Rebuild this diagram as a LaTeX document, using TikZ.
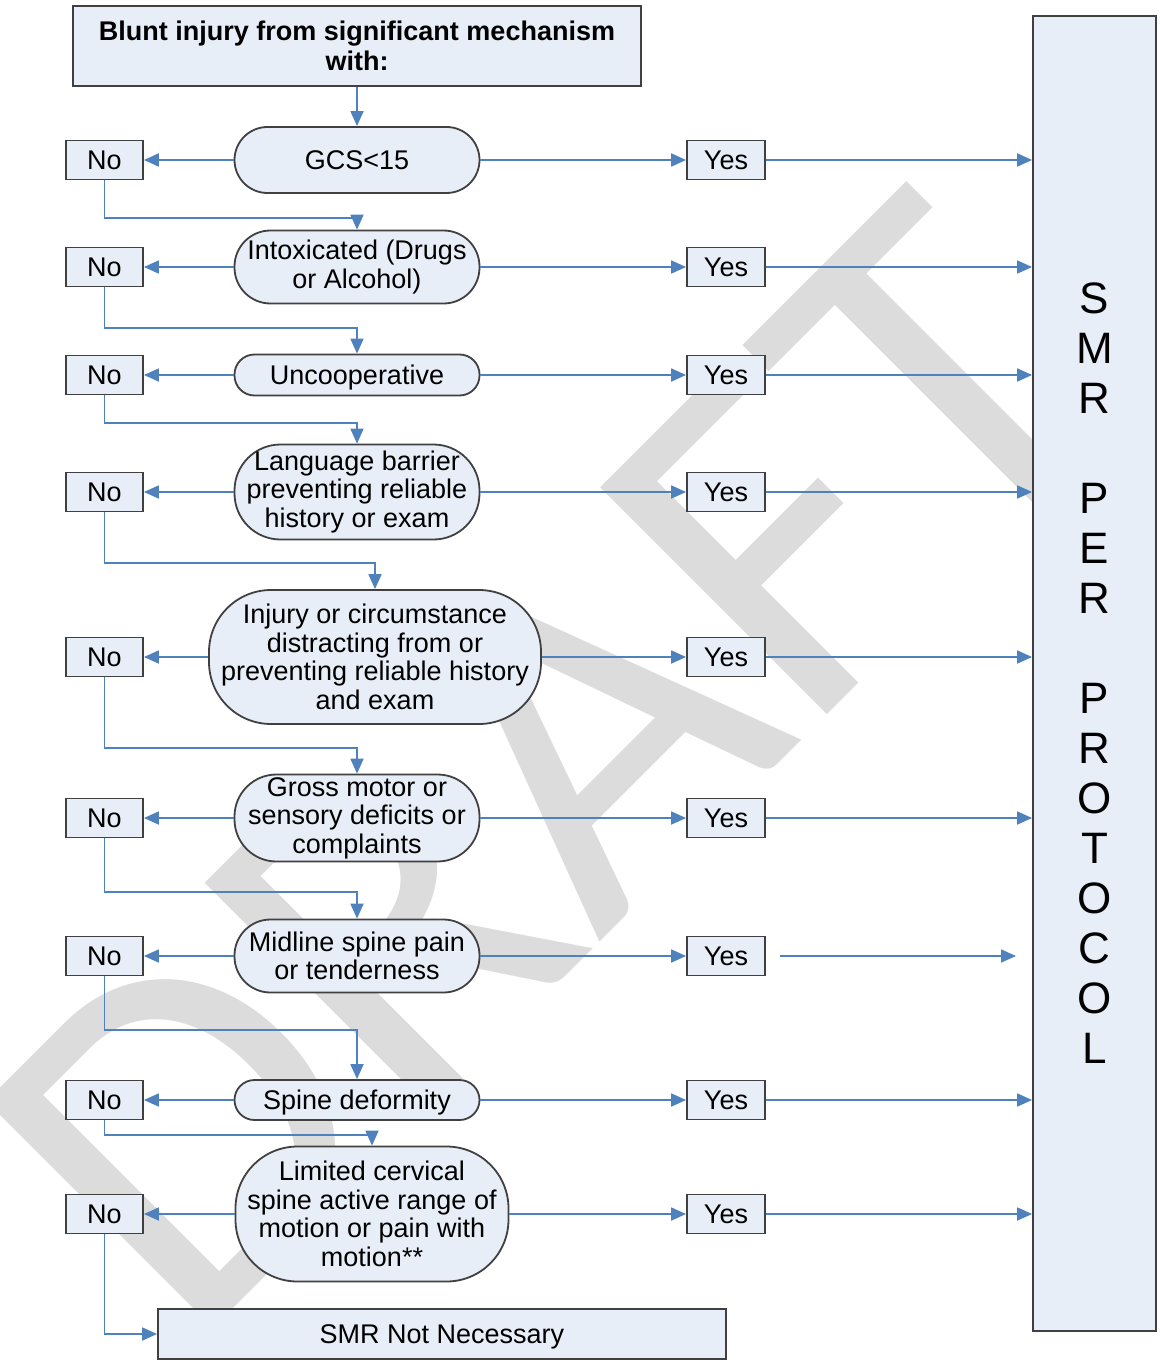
\documentclass[tikz,border=0pt]{standalone}
\usepackage{fontspec}
\setmainfont{Liberation Sans}
\newfontfamily\wmfont{Carlito}
\usetikzlibrary{arrows.meta}
\definecolor{boxfill}{RGB}{232,238,247}
\definecolor{boxline}{RGB}{64,64,64}
\definecolor{conncol}{RGB}{79,129,189}
\definecolor{wmcol}{RGB}{220,220,220}
\begin{document}
\begin{tikzpicture}[x=1pt,y=1pt,
  base/.style={draw=boxline, line width=1.8pt, fill=boxfill, inner sep=0pt, align=center, font=\fontsize{27}{28.5}\selectfont},
  oneline/.style={text height=19.5pt, text depth=0pt},
  smallbox/.style={base, minimum width=77pt, minimum height=39pt},
  conn/.style={draw=conncol, line width=1.8pt, -{Triangle[length=15pt,width=13pt]}}
]
\useasboundingbox (0,0) rectangle (1159,-1364);
\node[rotate=45, text=wmcol, font=\wmfont\fontsize{500}{500}\selectfont, inner sep=0pt] (wm) at (550,-765) {DRAFT};

\node[base, minimum width=568pt, minimum height=80pt, font=\bfseries\fontsize{27}{30}\selectfont] (top) at (357,-46) {Blunt injury from significant mechanism\\with:};

\node[base, oneline, minimum width=245pt, minimum height=66pt, rounded corners=33pt] (d1) at (357,-160) {GCS<15};
\node[base, minimum width=245pt, minimum height=73pt, rounded corners=36pt] (d2) at (357,-267) {Intoxicated (Drugs\\or Alcohol)};
\node[base, oneline, minimum width=245pt, minimum height=41pt, rounded corners=20pt] (d3) at (357,-375) {Uncooperative};
\node[base, minimum width=245pt, minimum height=95pt, rounded corners=46pt] (d4) at (357,-492) {Language barrier\\preventing reliable\\history or exam};
\node[base, minimum width=332pt, minimum height=134pt, rounded corners=62pt] (d5) at (375,-657) {Injury or circumstance\\distracting from or\\preventing reliable history\\and exam};
\node[base, minimum width=245pt, minimum height=87pt, rounded corners=42pt] (d6) at (357,-818) {Gross motor or\\sensory deficits or\\complaints};
\node[base, minimum width=245pt, minimum height=73pt, rounded corners=36pt] (d7) at (357,-956) {Midline spine pain\\or tenderness};
\node[base, oneline, minimum width=245pt, minimum height=40pt, rounded corners=20pt] (d8) at (357,-1100) {Spine deformity};
\node[base, minimum width=273pt, minimum height=135pt, rounded corners=62pt] (d9) at (372,-1214) {Limited cervical\\spine active range of\\motion or pain with\\motion**};

\foreach \i/\yy in {1/160,2/267,3/375,4/492,5/657,6/818,7/956,8/1100,9/1214}{
  \node[smallbox, oneline] (n\i) at (104.5,-\yy) {No};
  \node[smallbox, oneline, minimum width=78pt] (y\i) at (726,-\yy) {Yes};
}

\node[base, minimum width=123pt, minimum height=1315pt, font=\fontsize{44}{50}\selectfont] (smr) at (1094.5,-673.5) {S\\M\\R\\[50pt]P\\E\\R\\[50pt]P\\R\\O\\T\\O\\C\\O\\L};

\node[base, oneline, minimum width=568pt, minimum height=50pt] (final) at (442,-1334) {SMR Not Necessary};

\draw[conn] (top.south) -- (d1.north);
\foreach \i in {1,...,9}{
  \draw[conn] (d\i.west) -- (n\i.east);
  \draw[conn] (d\i.east) -- (y\i.west);
}
\foreach \i in {1,2,3,4,5,6,8,9}{
  \draw[conn] (y\i.east) -- (y\i.east -| smr.west);
}
\coordinate (m7a) at (780,-956);
\coordinate (m7b) at (1016,-956);
\draw[conn] (m7a) -- (m7b);

\draw[conn] (n1.south) -- ++(0,-37.5) -| (d2.north);
\draw[conn] (n2.south) -- ++(0,-40.5) -| (d3.north);
\draw[conn] (n3.south) -- ++(0,-27.5) -| (d4.north);
\draw[conn] (n4.south) -- ++(0,-50.5) -| (d5.north);
\draw[conn] (n5.south) -- ++(0,-70.5) -| (d6.north);
\draw[conn] (n6.south) -- ++(0,-53.5) -| (d7.north);
\draw[conn] (n7.south) -- ++(0,-53.5) -| (d8.north);
\draw[conn] (n8.south) -- ++(0,-14.5) -| (d9.north);
\draw[conn] (n9.south) |- (final.west);
\end{tikzpicture}
\end{document}
